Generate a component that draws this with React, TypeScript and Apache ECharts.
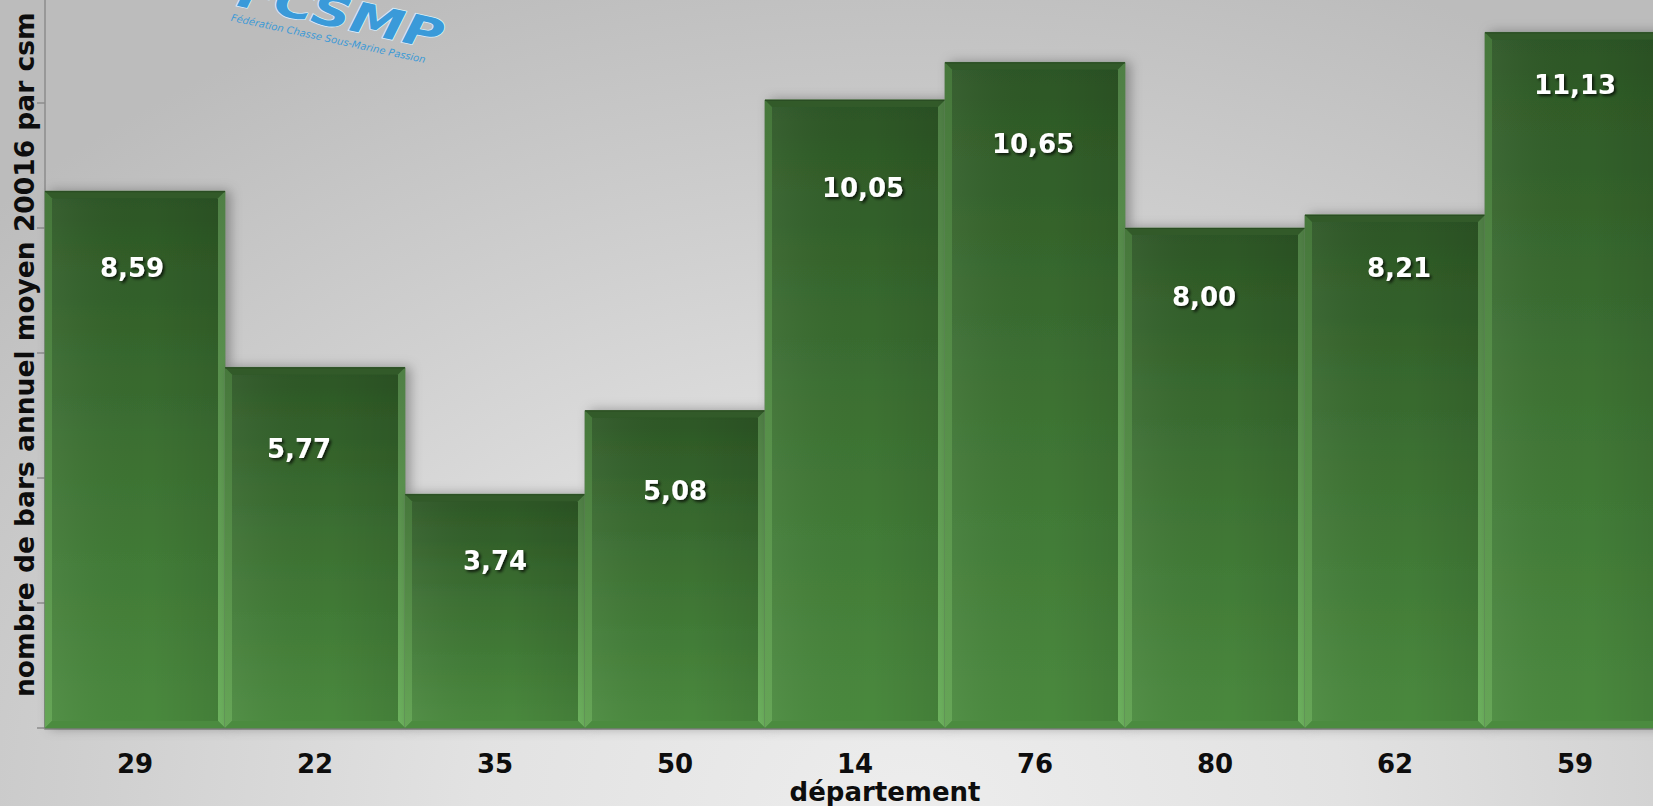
import React, { useEffect, useRef } from "react";
import * as echarts from "echarts";

const categories = ["29", "22", "35", "50", "14", "76", "80", "62", "59"];
const values = [8.59, 5.77, 3.74, 5.08, 10.05, 10.65, 8.0, 8.21, 11.13];
// label nudges relative to the bar's top-centre (px)
const labelDx = [-3, -16, 0, 0, 8, -2, -11, 4, 0];
const labelDy = [77, 82, 67, 80, 88, 82, 69, 53, 53];

const yTitle = "nombre de bars annuel moyen 20016 par csm";
const xTitle = "département";
const FONT = "DejaVu Sans";

// the chart canvas is larger than the visible frame (the reference is cropped)
const OFF_Y = 22;
const CW = 1665;
const CH = 806 + OFF_Y;

const fmt = (v: number) => v.toFixed(2).replace(".", ",");

export default function App() {
  const ref = useRef<HTMLDivElement>(null);
  useEffect(() => {
    document.body.style.margin = "0";
    if (!ref.current) return;
    const chart = echarts.init(ref.current, null, { renderer: "svg" });
    const LG = echarts.graphic.LinearGradient;

    const renderItem = (params: any, api: any) => {
      const i = api.value(0) as number;
      const v = api.value(1) as number;
      const base = api.coord([i, 0]);
      const tp = api.coord([i, v]);
      const w = api.size([1, 0])[0];
      const L = base[0] - w / 2;
      const R = base[0] + w / 2;
      const T = tp[1];
      const B = base[1];
      const b = 7;
      return {
        type: "group",
        children: [
          {
            type: "rect",
            shape: { x: L, y: T, width: R - L, height: B - T },
            style: {
              fill: new LG(0, 0, 0, 1, [
                { offset: 0, color: "#2c5625" },
                { offset: 0.45, color: "#3b6f31" },
                { offset: 1, color: "#4a8a3e" },
              ]),
              stroke: "#5b7d53",
              lineWidth: 1,
              shadowBlur: 12,
              shadowOffsetX: 5,
              shadowOffsetY: 0,
              shadowColor: "rgba(0,0,0,0.3)",
            },
          },
          {
            type: "rect",
            shape: { x: L + b, y: T + b, width: R - L - 2 * b, height: Math.max(0, B - T - 2 * b) },
            style: {
              fill: new LG(0, 0, 1, 0, [
                { offset: 0, color: "rgba(255,255,255,0.05)" },
                { offset: 0.6, color: "rgba(0,0,0,0)" },
                { offset: 1, color: "rgba(0,0,0,0.08)" },
              ]),
            },
          },
          {
            type: "polygon",
            shape: { points: [[L, T], [R, T], [R - b, T + b], [L + b, T + b]] },
            style: { fill: "#325a29" },
          },
          {
            type: "polygon",
            shape: { points: [[L, T], [L + b, T + b], [L + b, B - b], [L, B]] },
            style: {
              fill: new LG(0, 0, 0, 1, [
                { offset: 0, color: "#46773b" },
                { offset: 1, color: "#66a657" },
              ]),
            },
          },
          {
            type: "polygon",
            shape: { points: [[R, T], [R - b, T + b], [R - b, B - b], [R, B]] },
            style: {
              fill: new LG(0, 0, 0, 1, [
                { offset: 0, color: "#4f7f45" },
                { offset: 1, color: "#6db25e" },
              ]),
            },
          },
          {
            type: "polygon",
            shape: { points: [[L, B], [R, B], [R - b, B - b], [L + b, B - b]] },
            style: { fill: "#4b8b3f" },
          },
          {
            type: "line",
            shape: { x1: L, y1: T + 0.5, x2: R, y2: T + 0.5 },
            style: { stroke: "#2a4d23", lineWidth: 1.2 },
          },
          {
            type: "text",
            x: base[0] + labelDx[i],
            y: T + labelDy[i],
            style: {
              text: fmt(v),
              fill: "#ffffff",
              font: `bold 26px "${FONT}"`,
              align: "center",
              verticalAlign: "middle",
              textShadowColor: "rgba(0,0,0,0.75)",
              textShadowBlur: 3,
              textShadowOffsetX: 2,
              textShadowOffsetY: 2,
            },
          },
        ],
      };
    };

    chart.setOption({
      animation: false,
      backgroundColor: "transparent",
      grid: { left: 45, right: 0, top: 0, bottom: 78, containLabel: false },
      xAxis: {
        type: "category",
        data: categories,
        boundaryGap: true,
        axisLine: { show: true, lineStyle: { color: "#8c8c8c", width: 2.5 } },
        axisTick: { show: false },
        axisLabel: {
          margin: 23,
          fontSize: 26,
          fontWeight: "bold",
          fontFamily: FONT,
          color: "#0d0d0d",
        },
      },
      yAxis: {
        type: "value",
        min: 0,
        max: 12,
        interval: 2,
        axisLine: { show: true, lineStyle: { color: "#8c8c8c", width: 1.5 } },
        axisTick: { show: true, length: 8, lineStyle: { color: "#8c8c8c", width: 1.5 } },
        axisLabel: { show: false },
        splitLine: { show: false },
      },
      series: [
        {
          type: "custom",
          renderItem,
          encode: { x: 0, y: 1 },
          data: values.map((v, i) => [i, v]),
          z: 3,
        },
      ],
      graphic: [
        {
          type: "text",
          x: 24,
          y: 697 + OFF_Y,
          rotation: Math.PI / 2,
          style: {
            text: yTitle,
            font: `bold 26.5px "${FONT}"`,
            fill: "#0d0d0d",
            align: "left",
            verticalAlign: "middle",
          },
        },
        {
          type: "text",
          x: 885,
          y: 792 + OFF_Y,
          style: {
            text: xTitle,
            font: `bold 26px "${FONT}"`,
            fill: "#0d0d0d",
            align: "center",
            verticalAlign: "middle",
          },
        },
        {
          type: "group",
          x: 443,
          y: 36 + OFF_Y,
          rotation: -0.216,
          children: [
            {
              type: "text",
              x: 0,
              y: 0,
              scaleX: 1.3,
              style: {
                text: "FCSMP",
                font: `italic bold 42px "${FONT}"`,
                fill: "#3a9ad9",
                stroke: "#d9eefa",
                lineWidth: 1.5,
                align: "right",
                verticalAlign: "middle",
              },
            },
            {
              type: "text",
              x: -12,
              y: 27,
              style: {
                text: "Fédération Chasse Sous-Marine Passion",
                font: `italic 10px "${FONT}"`,
                fill: "#3d9ad6",
                align: "right",
                verticalAlign: "middle",
              },
            },
          ],
        },
      ],
    });
    return () => chart.dispose();
  }, []);

  return (
    <div
      style={{
        position: "relative",
        width: 1653,
        height: 806,
        overflow: "hidden",
        background:
          "radial-gradient(ellipse 75% 110% at 55% 100%, #ededed 0%, #e2e2e2 35%, #d0d0d0 65%, #bcbcbc 100%)",
      }}
    >
      <div
        ref={ref}
        style={{ position: "absolute", left: 0, top: -OFF_Y, width: CW, height: CH }}
      />
    </div>
  );
}
